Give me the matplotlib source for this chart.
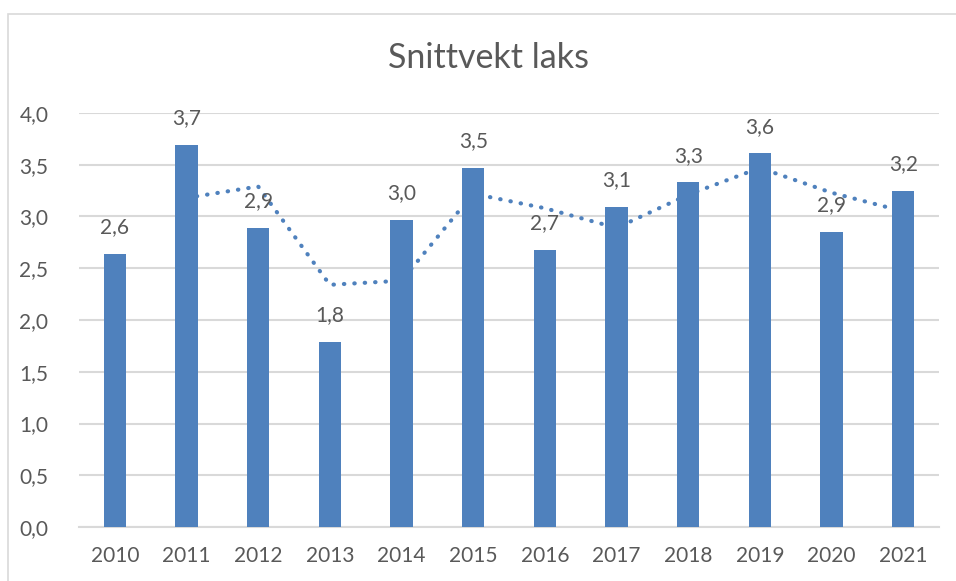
import matplotlib.pyplot as plt
from matplotlib.patches import Rectangle

years = ["2010", "2011", "2012", "2013", "2014", "2015",
         "2016", "2017", "2018", "2019", "2020", "2021"]
weights = [2.64, 3.69, 2.89, 1.79, 2.97, 3.47, 2.68, 3.09, 3.33, 3.61, 2.85, 3.25]
# dotted moving-average trend (starts at 2011)
trend_years = years[1:]
trend = [3.18, 3.29, 2.34, 2.38, 3.22, 3.08, 2.89, 3.21, 3.47, 3.23, 3.05]
yticks = [0.0, 0.5, 1.0, 1.5, 2.0, 2.5, 3.0, 3.5, 4.0]

blue = "#4F81BD"
text_col = "#595959"
grid_col = "#D9D9D9"

plt.rcParams['font.family'] = ['Lato', 'DejaVu Sans']

fig = plt.figure(figsize=(9.56, 5.81), dpi=100)
ax = fig.add_axes([79 / 956, 54 / 581, 860 / 956, 414 / 581])

# chart frame
fig.patches.append(Rectangle((8 / 956, -0.05), 1.2, (581 - 14) / 581 + 0.05,
                             transform=fig.transFigure, fill=False,
                             edgecolor=grid_col, linewidth=1.2))

x = list(range(len(years)))
tx = [years.index(t) for t in trend_years]

ax.plot(tx, trend, color=blue, linestyle=(0, (0.1, 2.4)), linewidth=3,
        dash_capstyle="round", zorder=2)
bars = ax.bar(x, weights, width=0.31, color=blue, zorder=3)

for xi, v in zip(x, weights):
    ax.annotate(f"{v:.1f}".replace(".", ","), (xi, v), xytext=(0, 12),
                textcoords="offset points", ha="center", va="bottom",
                fontsize=15, color=text_col, zorder=4)

ax.set_xlim(-0.5, len(years) - 0.5)
ax.set_ylim(0, 4)
ax.set_yticks(yticks)
ax.set_yticklabels([f"{t:.1f}".replace(".", ",") for t in yticks])
ax.set_xticks(x)
ax.set_xticklabels(years)
ax.tick_params(length=0, labelsize=15, labelcolor=text_col)
ax.tick_params(axis="y", pad=22)
ax.tick_params(axis="x", pad=14)
ax.yaxis.grid(True, color=grid_col, linewidth=1.5)
ax.set_axisbelow(True)
for s in ["top", "right", "left"]:
    ax.spines[s].set_visible(False)
ax.spines["bottom"].set_color(grid_col)
ax.spines["bottom"].set_linewidth(1.5)

fig.text(488 / 956, 1 - 58 / 581, "Snittvekt laks", ha="center", va="center",
         fontsize=24.5, color=text_col)

fig.savefig("out.png", dpi=100)
